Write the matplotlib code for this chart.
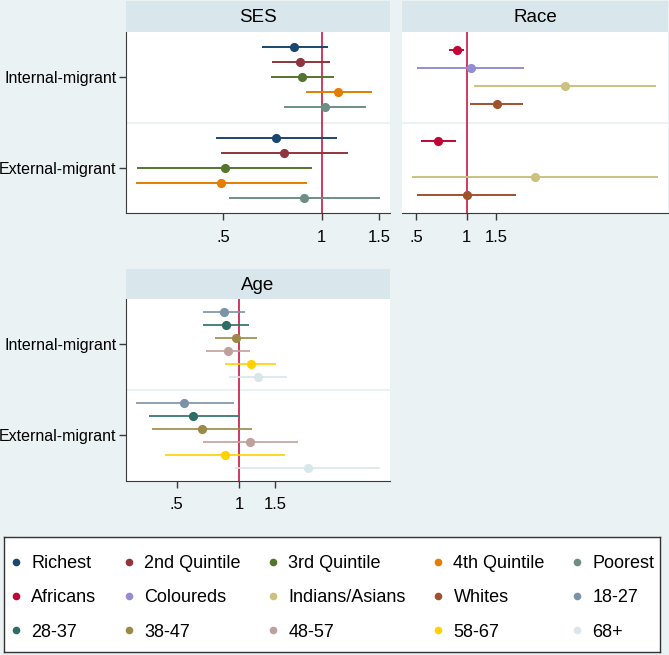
import numpy as np
import matplotlib
matplotlib.use('Agg')
import matplotlib.pyplot as plt
from matplotlib.lines import Line2D
from matplotlib.ticker import NullLocator

plt.rcParams['font.family'] = ['Liberation Sans', 'DejaVu Sans']

# ---- data (odds ratios with 95% CI) ----
ses_labels = ['Richest', '2nd Quintile', '3rd Quintile', '4th Quintile', 'Poorest']
ses_int_or = [0.82, 0.86, 0.87, 1.12, 1.02]
ses_int_lo = [0.655, 0.706, 0.698, 0.893, 0.767]
ses_int_hi = [1.043, 1.062, 1.093, 1.428, 1.363]
ses_ext_or = [0.725, 0.768, 0.504, 0.492, 0.883]
ses_ext_lo = [0.474, 0.493, 0.272, 0.270, 0.520]
ses_ext_hi = [1.114, 1.203, 0.934, 0.900, 1.504]

race_labels = ['Africans', 'Coloureds', 'Indians/Asians', 'Whites']
race_int_or = [0.868, 1.061, 3.86, 1.505]
race_int_lo = [0.784, 0.507, 1.10, 1.042]
race_int_hi = [0.964, 2.20, 13.4, 2.17]
race_ext_or = [0.673, np.nan, 2.55, 0.996]
race_ext_lo = [0.533, np.nan, 0.473, 0.504]
race_ext_hi = [0.856, np.nan, 13.8, 1.955]

age_labels = ['18-27', '28-37', '38-47', '48-57', '58-67', '68+']
age_int_or = [0.849, 0.862, 0.967, 0.885, 1.139, 1.231]
age_int_lo = [0.672, 0.668, 0.766, 0.693, 0.853, 0.895]
age_int_hi = [1.073, 1.118, 1.226, 1.130, 1.509, 1.70]
age_ext_or = [0.544, 0.602, 0.660, 1.130, 0.856, 2.155]
age_ext_lo = [0.316, 0.366, 0.379, 0.672, 0.438, 0.960]
age_ext_hi = [0.946, 0.997, 1.152, 1.921, 1.668, 4.80]

group_labels = ['Internal-migrant', 'External-migrant']

# stata s2color palette
ses_colors = ['#1a476f', '#90353b', '#55752f', '#e37e00', '#6e8e84']
race_colors = ['#c10534', '#938dd2', '#cac27e', '#a0522d']
age_colors = ['#7b92a8', '#2d6d66', '#9c8847', '#bfa19c', '#ffd200', '#d9e6eb']

BG = '#eaf2f3'
STRIP = '#d9e6eb'
AXCOL = '#3a3a3a'

W, H = 669, 655
fig = plt.figure(figsize=(W / 100, H / 100), dpi=100, facecolor=BG)


def px_rect(l, t, r, b):
    return [l / W, 1 - b / H, (r - l) / W, (b - t) / H]


def panel(box, strip, title, colors, est, xlim, show_y, lw):
    ax = fig.add_axes(px_rect(*box))
    n = len(colors)
    y_in = np.arange(1, n + 1)
    y_ex = y_in + n + 1
    (oi, li, hi_), (oe, le, he) = est
    for i in range(n):
        for y, o, lo, hi in [(y_in[i], oi[i], li[i], hi_[i]), (y_ex[i], oe[i], le[i], he[i])]:
            ax.plot([lo, hi], [y, y], color=colors[i], lw=lw, solid_capstyle='butt', zorder=3)
            ax.plot([o], [y], 'o', color=colors[i], ms=6.6, mew=0, zorder=4)
    ax.axvline(1, color='#c10534', lw=1.1, zorder=2)
    ax.axhline(n + 1, color=BG, lw=1.5, zorder=1)
    ax.set_xscale('log')
    ax.set_xlim(xlim)
    ax.set_ylim(2 * n + 2, 0)
    ax.set_xticks([0.5, 1, 1.5])
    ax.set_xticklabels(['.5', '1', '1.5'])
    ax.xaxis.set_minor_locator(NullLocator())
    ax.tick_params(axis='x', length=5, width=1, color=AXCOL, pad=7, labelsize=12)
    for s in ['top', 'right']:
        ax.spines[s].set_visible(False)
    ax.spines['bottom'].set_color(AXCOL)
    if show_y:
        ax.set_yticks([(n + 1) / 2, n + 1 + (n + 1) / 2])
        ax.set_yticklabels(group_labels)
        ax.tick_params(axis='y', length=5, width=1, color=AXCOL, pad=2, labelsize=11.5)
        ax.spines['left'].set_color(AXCOL)
    else:
        ax.set_yticks([])
        ax.spines['left'].set_visible(False)

    sx = fig.add_axes(px_rect(*strip))
    sx.set_facecolor(STRIP)
    sx.set_xticks([])
    sx.set_yticks([])
    for s in sx.spines.values():
        s.set_visible(False)
    sx.text(0.5, 0.45, title, ha='center', va='center', fontsize=13.5, transform=sx.transAxes)
    return ax


panel((126, 32, 390, 213), (126, 0.5, 390, 32), 'SES', ses_colors,
      [(ses_int_or, ses_int_lo, ses_int_hi), (ses_ext_or, ses_ext_lo, ses_ext_hi)],
      (0.2515, 1.618), True, 1.4)
panel((402, 32, 668, 213), (402, 0.5, 668, 32), 'Race', race_colors,
      [(race_int_or, race_int_lo, race_int_hi), (race_ext_or, race_ext_lo, race_ext_hi)],
      (0.41, 15.9), False, 1.4)
panel((126, 299, 390, 480.5), (126, 269, 390, 299), 'Age', age_colors,
      [(age_int_or, age_int_lo, age_int_hi), (age_ext_or, age_ext_lo, age_ext_hi)],
      (0.284, 5.37), True, 1.2)

# ---- legend ----
all_labels = ses_labels + race_labels + age_labels
all_colors = ses_colors + race_colors + age_colors
handles = [Line2D([], [], ls='', marker='o', ms=5.5, mew=0, color=c) for c in all_colors]
order = [r * 5 + c for c in range(5) for r in range(3)]

lax = fig.add_axes(px_rect(4, 537, 660, 652))
lax.set_facecolor('white')
lax.set_xticks([])
lax.set_yticks([])
for s in lax.spines.values():
    s.set_color('#333333')
    s.set_linewidth(1)
lax.legend([handles[i] for i in order], [all_labels[i] for i in order], ncol=5,
           loc='center', bbox_to_anchor=(0, -0.03, 1, 1), mode='expand', frameon=False,
           fontsize=13, handlelength=0.7, handletextpad=0.5, labelspacing=0.95,
           borderaxespad=0.1, borderpad=0.2, columnspacing=1.0)

fig.savefig('out.png', dpi=100, facecolor=BG)
